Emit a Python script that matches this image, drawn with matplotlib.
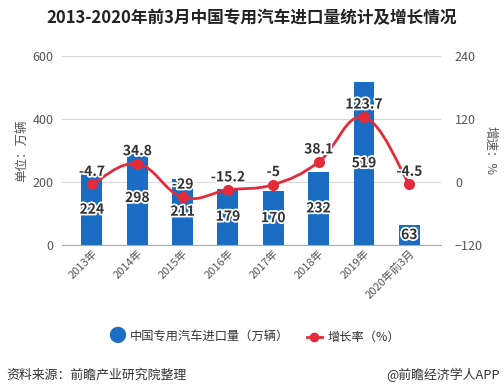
import numpy as np
import matplotlib.pyplot as plt
from matplotlib.path import Path
from matplotlib.patches import PathPatch
import matplotlib.patheffects as pe

plt.rcParams['font.family'] = ['Noto Sans CJK SC', 'DejaVu Sans']

years = ['2013年', '2014年', '2015年', '2016年', '2017年', '2018年', '2019年', '2020年前3月']
imports = [224, 298, 211, 179, 170, 232, 519, 63]
growth = [-4.7, 34.8, -29, -15.2, -5, 38.1, 123.7, -4.5]
growth_labels = ['-4.7', '34.8', '-29', '-15.2', '-5', '38.1', '123.7', '-4.5']

bar_color = '#1a6dc2'
line_color = '#e32b3a'
text_color = '#333333'
tick_color = '#555555'

fig = plt.figure(figsize=(5.04, 3.9), dpi=100)
ax = fig.add_axes([0.123, 0.372, 0.752, 0.484])
ax2 = ax.twinx()

x = np.arange(len(years))
ax.bar(x, imports, width=0.46, color=bar_color, zorder=2)
ax.set_xlim(-0.66, 7.7)
ax.set_ylim(0, 600)
ax.set_yticks([0, 200, 400, 600])
ax.grid(axis='y', color='#d9d9d9', linewidth=0.8, zorder=0)
ax.set_axisbelow(True)
for s in ['top', 'right', 'left']:
    ax.spines[s].set_visible(False)
    ax2.spines[s].set_visible(False)
ax.spines['bottom'].set_color('#aaaaaa')
ax2.spines['bottom'].set_visible(False)
ax.tick_params(axis='y', length=0, labelsize=9, colors=tick_color, pad=6)
ax.tick_params(axis='x', length=0, labelsize=8, colors=tick_color, pad=2)
ax.set_xticks(x)
ax.set_xticklabels(years, rotation=45, ha='right', rotation_mode='anchor')
ax.set_ylabel('单位：万辆', fontsize=9, color=tick_color, labelpad=3)

ax2.set_ylim(-120, 240)
ax2.set_yticks([-120, 0, 120, 240])
ax2.tick_params(axis='y', length=0, labelsize=9, colors=tick_color, pad=10)
ax2.set_ylabel('增速：%', fontsize=9, color=tick_color, rotation=270, labelpad=10)

# smooth line via cubic bezier segments (catmull-rom style)
pts = np.column_stack([x, growth]).astype(float)
verts = [tuple(pts[0])]
codes = [Path.MOVETO]
t = 0.2
for i in range(len(pts) - 1):
    p0 = pts[i - 1] if i > 0 else pts[i]
    p1 = pts[i]
    p2 = pts[i + 1]
    p3 = pts[i + 2] if i + 2 < len(pts) else pts[i + 1]
    c1 = p1 + (p2 - p0) * t
    c2 = p2 - (p3 - p1) * t
    verts += [tuple(c1), tuple(c2), tuple(p2)]
    codes += [Path.CURVE4] * 3
ax2.add_patch(PathPatch(Path(verts, codes), fill=False, edgecolor=line_color, linewidth=2, zorder=3))
ax2.plot(x, growth, 'o', color=line_color, markersize=7, zorder=4)

halo = [pe.withStroke(linewidth=2.5, foreground='white')]
for xi, v in zip(x, imports):
    ax.text(xi, v / 2, str(v), ha='center', va='center', fontsize=10, fontweight='bold',
            color=text_color, path_effects=halo, zorder=5)
for xi, g, lab in zip(x, growth, growth_labels):
    ax2.annotate(lab, (xi, g), xytext=(0, 4), textcoords='offset points', ha='center', va='bottom',
                 fontsize=10, fontweight='bold', color=text_color, path_effects=halo, zorder=5)

fig.text(0.5, 0.953, '2013-2020年前3月中国专用汽车进口量统计及增长情况', ha='center', va='center',
         fontsize=12, fontweight='bold', color='#222222')

# legend
fig.text(0.232, 0.136, '●', ha='center', va='center', fontsize=13, color=bar_color)
fig.text(0.258, 0.136, '中国专用汽车进口量（万辆）', ha='left', va='center', fontsize=8.8, color=text_color)
fig.add_artist(plt.Line2D([0.609, 0.639], [0.136, 0.136], color=line_color, linewidth=2,
                          transform=fig.transFigure))
fig.add_artist(plt.Line2D([0.624], [0.136], color=line_color, marker='o', markersize=6,
                          transform=fig.transFigure))
fig.text(0.649, 0.136, '增长率（%）', ha='left', va='center', fontsize=8.8, color=text_color)

fig.text(0.012, 0.038, '资料来源：前瞻产业研究院整理', ha='left', va='center', fontsize=9.3, color='#333333')
fig.text(0.992, 0.038, '@前瞻经济学人APP', ha='right', va='center', fontsize=9.3, color='#333333')

fig.savefig('out.png', dpi=100)
